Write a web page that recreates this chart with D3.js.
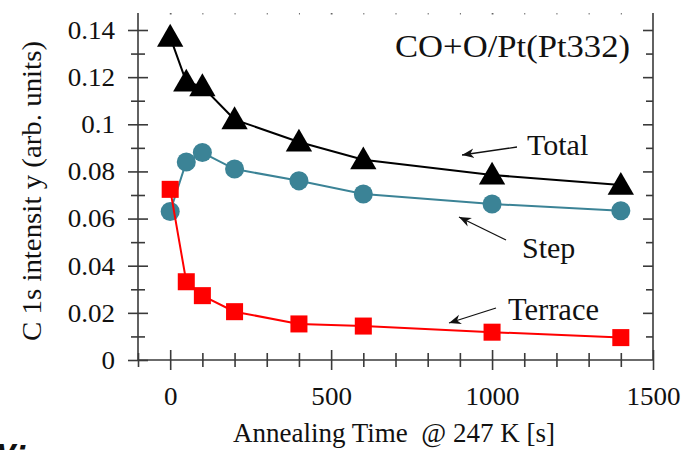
<!DOCTYPE html>
<html>
<head>
<meta charset="utf-8">
<script src="https://cdn.jsdelivr.net/npm/d3@7"></script>
<style>
  body { margin: 0; background: #fff; }
  svg text { font-family: "Liberation Serif", "DejaVu Serif", serif; fill: #111; }
</style>
</head>
<body>
<div id="chart"></div>
<script>
// annealing times (s)
const times = [0, 50, 100, 200, 400, 600, 1000, 1400];
const total   = [0.137, 0.118, 0.116, 0.102, 0.0925, 0.085, 0.0785, 0.0742];
const step    = [0.063, 0.084, 0.088, 0.081, 0.076, 0.0704, 0.0662, 0.0633];
const terrace = [0.0724, 0.0332, 0.0273, 0.0205, 0.0153, 0.0144, 0.0118, 0.0095];

const xMajor = [0, 500, 1000, 1500];
const xMinor = [-100, 100, 200, 300, 400, 600, 700, 800, 900, 1100, 1200, 1300, 1400];
const yMajor = [0, 0.02, 0.04, 0.06, 0.08, 0.1, 0.12, 0.14];
const yMinor = [0.01, 0.03, 0.05, 0.07, 0.09, 0.11, 0.13];
const topTicks = [0, 100, 200, 300, 400, 500, 600, 700, 800, 900, 1000, 1100, 1200, 1300, 1400];

const width = 683, height = 450;
const plotL = 138, plotR = 653, plotT = 13, plotB = 360;
const axisColor = "#3a3a3a";

const svg = d3.select("#chart").append("svg")
    .attr("width", width)
    .attr("height", height);

const x = d3.scaleLinear().domain([-100, 1500]).range([plotL, plotR]);
const y = d3.scaleLinear().domain([0, 0.14]).range([plotB, 30]);

// the source figure's digits are a bit wider than Times, stretch them a little
function widen(sel, k) {
    sel.each(function() {
        const w = this.getComputedTextLength();
        d3.select(this).attr("textLength", w * k).attr("lengthAdjust", "spacingAndGlyphs");
    });
}

// frame lines
svg.append("line").attr("x1", plotL).attr("x2", plotL).attr("y1", plotT).attr("y2", plotB)
    .attr("stroke", axisColor).attr("stroke-width", 1.6);
svg.append("line").attr("x1", plotR).attr("x2", plotR).attr("y1", plotT).attr("y2", plotB)
    .attr("stroke", axisColor).attr("stroke-width", 1.6);
svg.append("line").attr("x1", plotL).attr("x2", plotR).attr("y1", plotB).attr("y2", plotB)
    .attr("stroke", axisColor).attr("stroke-width", 1.6);

function styleAxis(g) {
    g.select(".domain").remove();
    g.selectAll(".tick line").attr("stroke", axisColor).attr("stroke-width", 1.6);
    g.selectAll(".tick text")
        .style("font-family", '"Liberation Serif", serif')
        .style("font-size", "26px")
        .attr("fill", "#111")
        .call(widen, 1.04);
}

// left axis: ticks cross the line
svg.append("g").attr("transform", `translate(${plotL},0)`)
    .call(d3.axisLeft(y).tickValues(yMajor).tickSize(10).tickPadding(13)
        .tickFormat(d => d === 0 ? "0" : String(+d.toFixed(2))))
    .call(styleAxis);
svg.append("g").attr("transform", `translate(${plotL},0)`)
    .call(d3.axisRight(y).tickValues(yMajor).tickSize(10).tickFormat(""))
    .call(styleAxis);
svg.append("g").attr("transform", `translate(${plotL},0)`)
    .call(d3.axisLeft(y).tickValues(yMinor).tickSize(7).tickFormat(""))
    .call(styleAxis);
svg.append("g").attr("transform", `translate(${plotL},0)`)
    .call(d3.axisRight(y).tickValues(yMinor).tickSize(7).tickFormat(""))
    .call(styleAxis);

// right axis: inward ticks
svg.append("g").attr("transform", `translate(${plotR},0)`)
    .call(d3.axisLeft(y).tickValues(yMajor.slice(1)).tickSize(10).tickFormat(""))
    .call(styleAxis);
svg.append("g").attr("transform", `translate(${plotR},0)`)
    .call(d3.axisLeft(y).tickValues(yMinor).tickSize(7).tickFormat(""))
    .call(styleAxis);

// bottom axis: ticks cross the line
svg.append("g").attr("transform", `translate(0,${plotB})`)
    .call(d3.axisBottom(x).tickValues(xMajor).tickSize(10).tickPadding(17).tickFormat(d3.format("d")))
    .call(styleAxis);
svg.append("g").attr("transform", `translate(0,${plotB})`)
    .call(d3.axisTop(x).tickValues(xMajor).tickSize(10).tickFormat(""))
    .call(styleAxis);
svg.append("g").attr("transform", `translate(0,${plotB})`)
    .call(d3.axisBottom(x).tickValues(xMinor).tickSize(7).tickFormat(""))
    .call(styleAxis);
svg.append("g").attr("transform", `translate(0,${plotB})`)
    .call(d3.axisTop(x).tickValues(xMinor).tickSize(7).tickFormat(""))
    .call(styleAxis);

// faint top ticks
svg.append("g").attr("transform", `translate(0,${plotT})`)
    .call(d3.axisBottom(x).tickValues(topTicks).tickSize(1.5).tickFormat(""))
    .call(g => {
        g.select(".domain").remove();
        g.selectAll(".tick line").attr("stroke", "#666").attr("stroke-width", d => d % 500 === 0 ? 1.8 : 1);
    });

// series
const series = [
    { name: "Total", values: total, color: "#000000", symbol: d3.symbolTriangle, size: 300 },
    { name: "Step", values: step, color: "#3b8396", symbol: d3.symbolCircle, size: 285 },
    { name: "Terrace", values: terrace, color: "#ff0000", symbol: d3.symbolSquare, size: 290 }
];

const line = d3.line().x(d => x(d[0])).y(d => y(d[1]));

series.forEach(s => {
    const pts = times.map((t, i) => [t, s.values[i]]);
    svg.append("path")
        .datum(pts)
        .attr("d", line)
        .attr("fill", "none")
        .attr("stroke", s.color)
        .attr("stroke-width", 2);
    svg.append("g").selectAll("path")
        .data(pts)
        .enter()
        .append("path")
        .attr("d", d3.symbol().type(s.symbol).size(s.size))
        .attr("transform", d => `translate(${x(d[0])},${y(d[1]) + (s.symbol === d3.symbolTriangle ? 2 : 0)})`)
        .attr("fill", s.color);
});

// annotations
svg.append("defs").append("marker")
    .attr("id", "head")
    .attr("viewBox", "0 0 10 10")
    .attr("refX", 10).attr("refY", 5)
    .attr("markerWidth", 12).attr("markerHeight", 12)
    .attr("markerUnits", "userSpaceOnUse")
    .attr("orient", "auto")
    .append("path")
    .attr("d", "M0,1 L10,5 L0,9 L3,5 Z")
    .attr("fill", "#111");

const arrows = [
    [517, 147, 462, 155],
    [506, 240, 459, 217],
    [496, 308, 449, 323]
];
svg.append("g").selectAll("line")
    .data(arrows)
    .enter()
    .append("line")
    .attr("x1", d => d[0]).attr("y1", d => d[1])
    .attr("x2", d => d[2]).attr("y2", d => d[3])
    .attr("stroke", "#111")
    .attr("stroke-width", 1.3)
    .attr("marker-end", "url(#head)");

svg.append("text").attr("x", 527).attr("y", 155).style("font-size", "30px").text("Total");
svg.append("text").attr("x", 522).attr("y", 258).style("font-size", "30px").text("Step");
svg.append("text").attr("x", 508).attr("y", 320).style("font-size", "30.5px").text("Terrace");

svg.append("text").attr("x", 630).attr("y", 57).attr("text-anchor", "end")
    .style("font-size", "32px")
    .attr("textLength", 235).attr("lengthAdjust", "spacingAndGlyphs")
    .text("CO+O/Pt(Pt332)");

// axis titles
svg.append("text")
    .attr("transform", "translate(41,191) rotate(-90)")
    .attr("text-anchor", "middle")
    .style("font-size", "28px")
    .attr("textLength", 300).attr("lengthAdjust", "spacingAndGlyphs")
    .text("C 1s intensit y (arb. units)");

svg.append("text")
    .attr("x", 394).attr("y", 442)
    .attr("text-anchor", "middle")
    .style("font-size", "27px")
    .style("white-space", "pre")
    .text("Annealing Time  @ 247 K [s]");

// cropped fragment at the lower-left edge
svg.append("text")
    .attr("x", -3).attr("y", 462)
    .style("font-family", '"Liberation Sans", sans-serif')
    .style("font-weight", "bold")
    .style("font-style", "italic")
    .style("font-size", "34px")
    .attr("fill", "#000")
    .text("v:");
</script>
</body>
</html>
